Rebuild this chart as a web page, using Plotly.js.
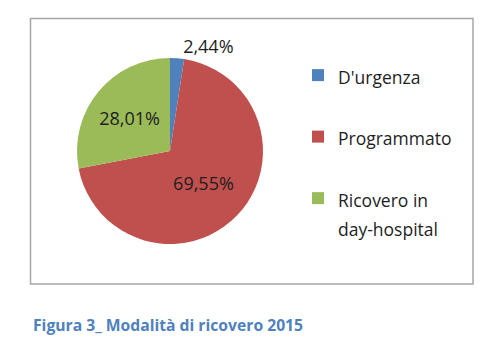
<!DOCTYPE html>
<html><head><meta charset="utf-8">
<script src="https://cdn.plot.ly/plotly-3.0.1.min.js"></script>
<style>html,body{margin:0;padding:0;background:#fff}</style>
</head><body><div id="chart" style="width:500px;height:351px"></div>
<script>
// Data
const categories = ["D'urgenza", "Programmato", "Ricovero in<br>day-hospital"];
const shares = [2.44, 69.55, 28.01];
const sliceColors = ["#4f81bd", "#c0504d", "#9bbb59"];
const labelPositions = ["outside", "inside", "inside"];
const captionText = "Figura 3_ Modalità di ricovero 2015";

// legend entries: text drawn at 17.5px, padded to two (tall) lines so the entries are spread like the reference
const legendLabels = categories.map(function (c) {
  const parts = c.split("<br>");
  let s = parts.map(function (p) { return '<span style="font-size:17.5px">' + p + '</span>'; }).join("<br>");
  for (let i = parts.length; i < 2; i++) s += "<br>&nbsp;";
  return s;
});

const W = 500, H = 351;
const fontFam = "Open Sans, Noto Sans, sans-serif";

const trace = {
  type: "pie",
  labels: legendLabels,
  values: shares,
  sort: false,
  direction: "clockwise",
  rotation: 0,
  marker: { colors: sliceColors, line: { width: 0 } },
  texttemplate: "%{value:.2f}%",
  textposition: labelPositions,
  insidetextorientation: "horizontal",
  textfont: { family: fontFam, size: 18, color: "#1e1e1e" },
  domain: { x: [77 / W, 263 / W], y: [1 - 244 / H, 1 - 58 / H] },
  hoverinfo: "label+percent",
  automargin: false
};

const layout = {
  width: W, height: H,
  margin: { l: 0, r: 0, t: 0, b: 0 },
  paper_bgcolor: "#ffffff",
  separators: ",.",
  showlegend: true,
  legend: {
    x: 298 / W, y: 1 - 54 / H, xanchor: "left", yanchor: "top",
    font: { family: fontFam, size: 22.5, color: "#1e1e1e" },
    valign: "top",
    bgcolor: "rgba(0,0,0,0)",
    itemclick: false, itemdoubleclick: false
  },
  shapes: [{
    type: "rect", xref: "paper", yref: "paper",
    x0: 30.5 / W, x1: 473 / W, y0: 1 - 284 / H, y1: 1 - 18.5 / H,
    line: { color: "#a6a6a6", width: 1.5 }, fillcolor: "rgba(0,0,0,0)", layer: "below"
  }],
  annotations: [{
    text: captionText, xref: "paper", yref: "paper",
    x: 31 / W, y: 1 - 325 / H, xanchor: "left", yanchor: "middle",
    showarrow: false,
    font: { family: fontFam, size: 15.7, color: "#4f81bd", weight: 700 }
  }]
};

Plotly.newPlot("chart", [trace], layout, { displayModeBar: false, staticPlot: true });
</script>
</body></html>
